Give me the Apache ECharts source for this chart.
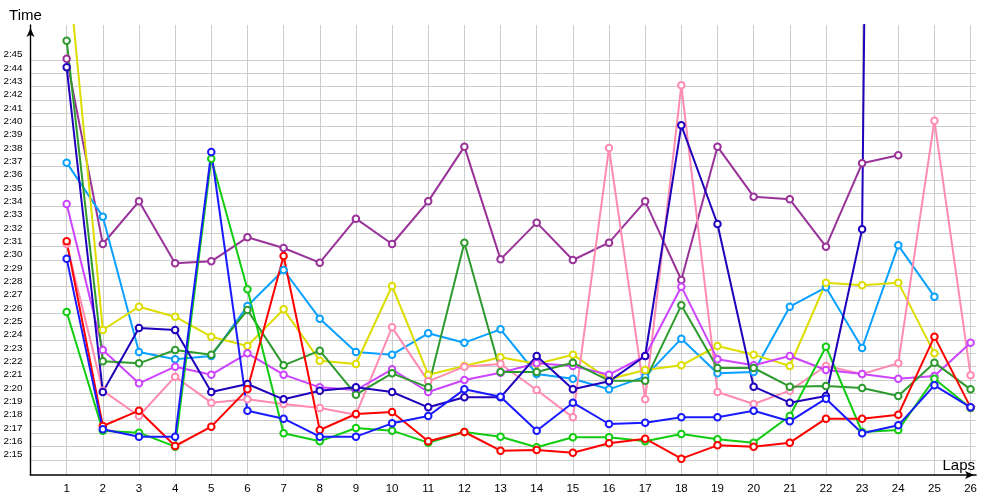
<!DOCTYPE html>
<html><head><meta charset="utf-8">
<script src="https://cdn.jsdelivr.net/npm/echarts@6/dist/echarts.min.js"></script>
<style>html,body{margin:0;padding:0;background:#fff}#c{width:1000px;height:500px}</style>
</head><body><div id="c"></div>
<script>
// Lap numbers (x axis categories)
const laps = [1,2,3,4,5,6,7,8,9,10,11,12,13,14,15,16,17,18,19,20,21,22,23,24,25,26];
// Y tick labels (lap time m:ss)
const yTickLabels = ['2:15','2:16','2:17','2:18','2:19','2:20','2:21','2:22','2:23','2:24','2:25','2:26','2:27','2:28','2:29','2:30','2:31','2:32','2:33','2:34','2:35','2:36','2:37','2:38','2:39','2:40','2:41','2:42','2:43','2:44','2:45'];

// Lap times in seconds, one array per driver
const purple    = [165.1,151.2,154.4,149.75,149.9,151.7,150.9,149.8,153.1,151.2,154.4,158.5,150.05,152.8,150.0,151.3,154.4,148.5,158.5,154.75,154.55,151.0,157.25,157.85];
const lightBlue = [157.3,153.25,143.1,142.55,142.8,146.55,149.25,145.6,143.1,142.9,144.5,143.8,144.8,141.45,141.1,140.3,141.25,144.1,141.5,141.6,146.5,147.95,143.4,151.1,147.25];
const yellow    = [173.2,144.75,146.5,145.75,144.25,143.55,146.3,142.45,142.2,148.05,141.4,142.05,142.7,142.2,142.9,141.05,141.75,142.1,143.55,142.9,142.05,148.3,148.1,148.3,143.0];
const pink      = [151.2,140.2,138.3,141.25,139.3,139.55,139.2,138.9,138.4,144.95,140.9,142.0,142.2,140.25,138.2,158.4,139.55,163.1,140.1,139.2,140.2,142.05,141.45,142.25,160.45,141.35];
const magenta   = [154.2,143.25,140.75,142.0,141.4,143.0,141.4,140.45,140.25,141.8,140.1,141.0,141.55,142.25,142.05,141.4,142.8,148.0,142.55,142.1,142.8,141.75,141.45,141.1,141.3,143.8];
const darkGreen = [166.45,142.4,142.25,143.25,142.9,146.25,142.1,143.2,139.9,141.5,140.45,151.3,141.6,141.6,142.3,140.95,140.95,146.6,141.9,141.9,140.5,140.55,140.4,139.8,142.3,140.3];
const green     = [146.1,137.2,137.05,136.0,157.6,147.8,137.0,136.4,137.4,137.2,136.3,137.1,136.75,135.95,136.7,136.7,136.4,136.95,136.55,136.3,138.3,143.5,137.1,137.25,141.1,138.9];
const navy      = [164.45,140.1,144.9,144.75,140.1,140.7,139.55,140.2,140.45,140.1,138.95,139.7,139.7,142.8,140.3,140.9,142.8,160.1,152.7,140.5,139.3,139.8,152.3,416];
const red       = [151.4,137.55,138.7,136.05,137.5,140.3,150.3,137.25,138.45,138.6,136.4,137.1,135.7,135.75,135.55,136.25,136.6,135.1,136.1,136.0,136.3,138.1,138.1,138.4,144.25,138.95];
const blue      = [150.1,137.3,136.75,136.75,158.1,138.7,138.1,136.75,136.75,137.75,138.3,140.3,139.75,137.2,139.3,137.7,137.8,138.2,138.2,138.7,137.9,139.6,137.0,137.6,140.6,138.95];

function toSec(s){ const p = s.split(':'); return (+p[0])*60 + (+p[1]); }
function fmt(v){ const m = Math.floor(v/60); const s = Math.round(v - m*60); return m + ':' + String(s).padStart(2,'0'); }
const yTickValues = yTickLabels.map(toSec);

const seriesDefs = [
  {name:'purple', data:purple, color:'#993399'},
  {name:'lightBlue', data:lightBlue, color:'#0aa0ff'},
  {name:'yellow', data:yellow, color:'#dddd00'},
  {name:'pink', data:pink, color:'#ff8cb0'},
  {name:'magenta', data:magenta, color:'#cc44ff'},
  {name:'darkGreen', data:darkGreen, color:'#2e9a2e'},
  {name:'green', data:green, color:'#11cc11'},
  {name:'navy', data:navy, color:'#2000bb'},
  {name:'red', data:red, color:'#ff0000'},
  {name:'blue', data:blue, color:'#1a1aff'}
];

const chart = echarts.init(document.getElementById('c'), null, {renderer:'canvas'});
chart.setOption({
  animation:false,
  backgroundColor:'#ffffff',
  grid:{left:30.5, right:24, top:25, bottom:25, containLabel:false},
  xAxis:{
    type:'value', min:0, max:26.15,
    name:'Laps', nameLocation:'end', nameGap:-1,
    nameTextStyle:{fontFamily:'Liberation Sans', fontSize:15, color:'#000', align:'right', verticalAlign:'bottom', padding:[0,0,2,0]},
    axisLine:{show:true, onZero:false, lineStyle:{color:'#000', width:1.6}, symbol:['none','arrow'], symbolSize:[6,9], symbolOffset:[0,-2]},
    axisTick:{show:false, customValues:laps},
    axisLabel:{customValues:laps, margin:8, fontFamily:'Liberation Sans', fontSize:11.5, color:'#000'},
    splitLine:{show:true, lineStyle:{color:'#cccccc', width:1}}
  },
  yAxis:{
    type:'value', min:133.875, max:167.625,
    name:'Time', nameLocation:'end', nameGap:2,
    nameTextStyle:{fontFamily:'Liberation Sans', fontSize:15, color:'#000', align:'center', verticalAlign:'bottom', padding:[0,10,0,0]},
    axisLine:{show:true, onZero:false, lineStyle:{color:'#000', width:1.4}, symbol:['none','arrow'], symbolSize:[6,9], symbolOffset:[0,-3]},
    axisTick:{show:false, customValues:yTickValues},
    axisLabel:{customValues:yTickValues, formatter:fmt, margin:8, fontFamily:'Liberation Sans', fontSize:9.8, color:'#000', verticalAlign:'bottom', lineHeight:11},
    splitLine:{show:true, lineStyle:{color:'#cccccc', width:1}}
  },
  series: seriesDefs.map(d => ({
    name:d.name, type:'line',
    data:d.data.map((v,i)=>[laps[i], v]),
    symbol:'emptyCircle', symbolSize:6.5,
    clip:true,
    lineStyle:{color:d.color, width:2},
    itemStyle:{color:d.color, borderColor:d.color, borderWidth:1.4},
    emphasis:{disabled:true}
  }))
});
</script>
</body></html>
